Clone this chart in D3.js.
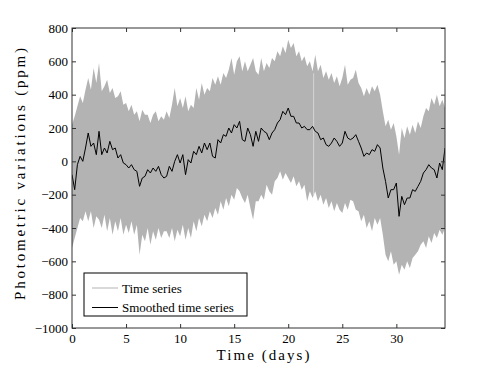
<!DOCTYPE html>
<html>
<head>
<meta charset="utf-8">
<script src="https://cdn.jsdelivr.net/npm/d3@7"></script>
<style>
  body { margin: 0; background: #fff; }
  svg { display: block; }
</style>
</head>
<body>
<div id="chart"></div>
<script>
// sampling of the series (days)
var dayStart = 0, dayStep = 0.25;

// upper / lower edge of the raw time series (ppm)
var seriesHigh = [
  220,270,330,390,350,430,500,430,560,470,590,420,450,490,410,440,380,390,420,340,
  350,300,340,280,300,240,310,280,280,230,280,300,240,270,250,
  300,260,340,440,330,380,320,390,300,340,320,440,370,470,400,440,420,500,460,510,
  460,530,500,550,620,520,600,630,540,600,540,580,620,540,
  520,620,540,590,560,620,600,660,630,690,650,730,680,710,630,660,600,630,570,600,
  540,640,540,580,500,540,490,530,470,510,450,500,580,460,490,
  500,550,470,440,390,440,400,450,420,460,400,300,210,250,190,230,150,40,200,140,
  210,160,220,170,240,200,270,320,300,380,340,400,330,370,320
];
var seriesLow = [
  -520,-460,-400,-340,-360,-300,-360,-300,-400,-330,-350,-400,-320,-420,-340,-440,-360,-420,-340,-440,
  -380,-430,-360,-440,-380,-560,-440,-480,-400,-500,-420,-470,-400,-460,-420,
  -420,-460,-400,-480,-410,-450,-380,-470,-400,-460,-360,-420,-340,-390,-320,-360,-300,-340,-280,-320,
  -240,-290,-220,-270,-200,-230,-160,-180,-220,-250,-200,-280,-350,-240,
  -240,-200,-230,-140,-180,-200,-120,-100,-60,-110,-70,-100,-130,-90,-150,-120,-170,-140,-240,-180,
  -220,-180,-240,-200,-260,-220,-280,-240,-300,-250,-290,-310,-250,-290,-230,
  -240,-290,-300,-360,-320,-400,-360,-420,-340,-380,-340,-440,-560,-600,-540,-620,-600,-680,-620,-650,
  -600,-640,-580,-560,-540,-500,-480,-520,-450,-490,-430,-460,-410,-440,-400
];
// smoothed time series (ppm)
var smoothed = [
  -80,-170,-20,30,0,80,170,90,110,40,180,40,80,50,120,70,80,20,40,-10,
  -20,-40,-20,-50,-60,-150,-100,-90,-50,-70,-40,-60,-30,-80,-100,
  -90,-30,-60,0,40,-10,40,-80,10,-10,60,40,90,50,110,70,110,30,20,130,
  110,160,150,200,170,220,200,240,130,120,200,160,90,180,
  120,200,180,170,130,170,190,230,250,300,280,320,270,270,230,230,200,210,190,190,
  210,180,170,130,140,100,90,110,140,120,90,110,180,140,130,
  140,160,120,80,30,50,40,70,60,100,80,-40,-120,-220,-170,-170,-130,-330,-210,-260,
  -220,-220,-170,-180,-150,-120,-70,-50,-20,-40,-50,-100,-10,-50,80
];
var gapDays = [22.35];

var xTicks = [0, 5, 10, 15, 20, 25, 30];
var yTicks = [-1000, -800, -600, -400, -200, 0, 200, 400, 600, 800];
var legendLabels = ["Time series", "Smoothed time series"];

var serif = "'Liberation Serif', 'Times New Roman', serif";

var margin = {top: 28, right: 46, bottom: 42, left: 72},
    width = 491 - margin.left - margin.right,
    height = 370 - margin.top - margin.bottom;

var svg = d3.select("#chart").append("svg")
    .attr("width", 491)
    .attr("height", 370)
  .append("g")
    .attr("transform", "translate(" + margin.left + "," + margin.top + ")");

var x = d3.scaleLinear().domain([0, 34.5]).range([0, width]);
var y = d3.scaleLinear().domain([-1000, 800]).range([height, 0]);

var pts = seriesHigh.map(function(h, i) {
  return {t: dayStart + i * dayStep, hi: h, lo: seriesLow[i], sm: smoothed[i]};
});

svg.append("clipPath").attr("id", "clip")
  .append("rect").attr("width", width).attr("height", height);

var plot = svg.append("g").attr("clip-path", "url(#clip)");

// raw series drawn as its band
plot.append("path")
  .datum(pts)
  .attr("fill", "#b3b3b3")
  .attr("d", d3.area()
    .x(function(d) { return x(d.t); })
    .y0(function(d) { return y(d.lo); })
    .y1(function(d) { return y(d.hi); }));

// data gap
gapDays.forEach(function(g) {
  var i = Math.round((g - dayStart) / dayStep);
  plot.append("line")
    .attr("x1", x(g)).attr("x2", x(g))
    .attr("y1", y(pts[i].hi) + 2).attr("y2", y(pts[i].lo) - 2)
    .attr("stroke", "#d4d4d4").attr("stroke-width", 1);
});

plot.append("path")
  .datum(pts)
  .attr("fill", "none")
  .attr("stroke", "#000")
  .attr("stroke-width", 1)
  .attr("stroke-linejoin", "round")
  .attr("d", d3.line()
    .x(function(d) { return x(d.t); })
    .y(function(d) { return y(d.sm); }));

// axes, ticks pointing inward
function styleAxis(g) {
  g.select(".domain").remove();
  g.selectAll(".tick line").attr("stroke", "#333");
  g.selectAll(".tick text")
    .style("font-family", serif)
    .style("font-size", "13px")
    .attr("fill", "#000");
}
var fmt = d3.format("d");

svg.append("g")
  .attr("transform", "translate(0," + height + ")")
  .call(d3.axisBottom(x).tickValues(xTicks).tickFormat(fmt).tickSize(-4).tickPadding(6))
  .call(styleAxis);
svg.append("g")
  .call(d3.axisTop(x).tickValues(xTicks).tickSize(-4).tickFormat(""))
  .call(styleAxis);
svg.append("g")
  .call(d3.axisLeft(y).tickValues(yTicks).tickFormat(fmt).tickSize(-4).tickPadding(4))
  .call(styleAxis);
svg.append("g")
  .attr("transform", "translate(" + width + ",0)")
  .call(d3.axisRight(y).tickValues(yTicks).tickSize(-4).tickFormat(""))
  .call(styleAxis);

svg.append("rect")
  .attr("width", width).attr("height", height)
  .attr("fill", "none").attr("stroke", "#333").attr("stroke-width", 1);

// axis titles
svg.append("text")
  .attr("x", 191).attr("y", height + 32)
  .attr("text-anchor", "middle")
  .attr("textLength", 93).attr("lengthAdjust", "spacing")
  .style("font-family", serif)
  .style("font-size", "15px")
  .text("Time (days)");

svg.append("text")
  .attr("transform", "translate(-47," + (height / 2 - 4) + ")rotate(-90)")
  .attr("text-anchor", "middle")
  .attr("textLength", 252).attr("lengthAdjust", "spacing")
  .style("font-family", serif)
  .style("font-size", "15px")
  .text("Photometric variations (ppm)");

// legend
var legend = svg.append("g").attr("transform", "translate(12,245)");
legend.append("rect")
  .attr("width", 163).attr("height", 43)
  .attr("fill", "#fff").attr("stroke", "#000").attr("stroke-width", 1);
var legendColors = ["#b3b3b3", "#000"];
legendLabels.forEach(function(lab, i) {
  var ly = 15 + i * 19.5;
  legend.append("line")
    .attr("x1", 8).attr("x2", 34).attr("y1", ly).attr("y2", ly)
    .attr("stroke", legendColors[i]).attr("stroke-width", 1);
  legend.append("text")
    .attr("x", 38).attr("y", ly + 4.5)
    .style("font-family", serif)
    .style("font-size", "13px")
    .text(lab);
});
</script>
</body>
</html>
